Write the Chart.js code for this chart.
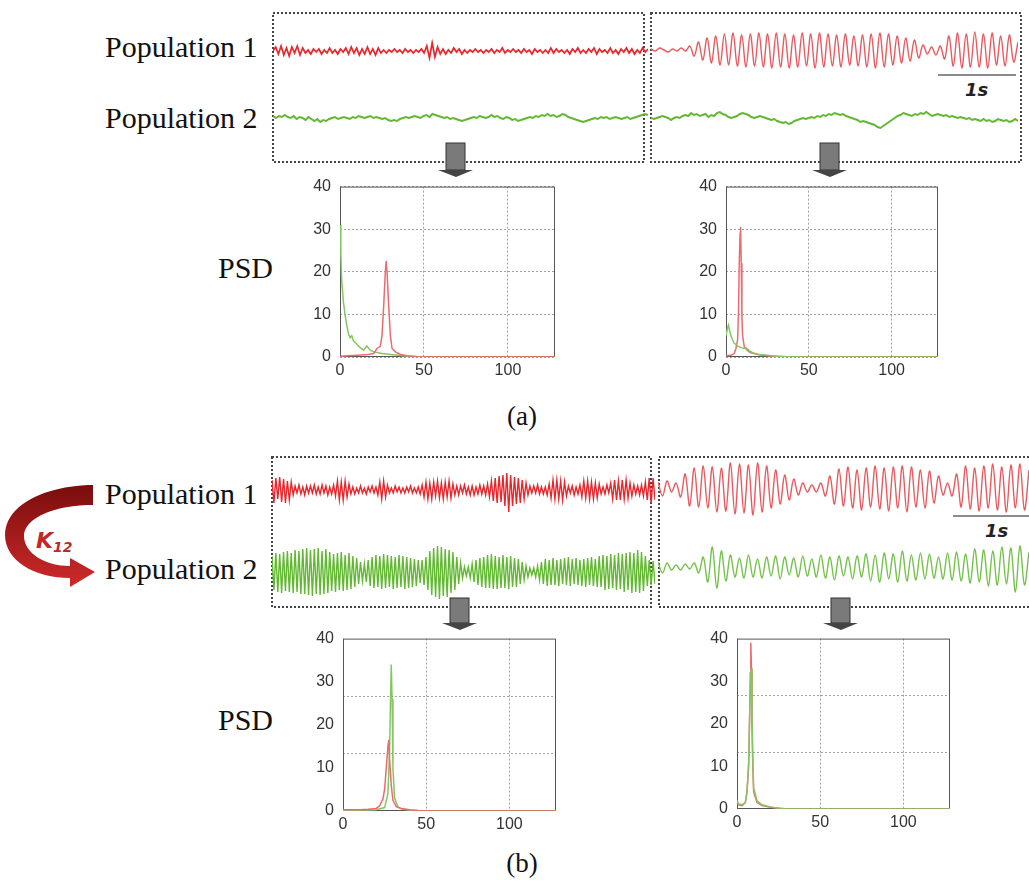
<!DOCTYPE html>
<html>
<head>
<meta charset="utf-8">
<title>Population activity and PSD</title>
<script src="https://cdn.jsdelivr.net/npm/chart.js@4.4.1/dist/chart.umd.min.js"></script>
<style>
body { margin: 0; background: #fff; }
#fig { position: relative; width: 1029px; height: 886px; overflow: hidden; }
#fig canvas { position: absolute; }
#fig svg { position: absolute; left: 0; top: 0; }
.pop { font-family: "Liberation Serif", "Times New Roman", serif; font-size: 30px; fill: #111; }
.cap { font-family: "Liberation Serif", "Times New Roman", serif; font-size: 27px; fill: #111; }
.sec { font-family: "DejaVu Sans", sans-serif; font-size: 18px; font-weight: bold; font-style: italic; fill: #222; }
</style>
</head>
<body>
<div id="fig">
<svg width="1029" height="886">
    <defs>
        <linearGradient id="kgrad" x1="0" y1="0" x2="0" y2="1">
            <stop offset="0" stop-color="#7a0d0d"/>
            <stop offset="1" stop-color="#cf2a2a"/>
        </linearGradient>
    </defs>
    <!-- signal windows -->
    <rect x="273" y="13" width="371" height="149" fill="none" stroke="#444" stroke-width="2" stroke-dasharray="2,2"/>
    <rect x="651" y="13" width="370" height="149" fill="none" stroke="#444" stroke-width="2" stroke-dasharray="2,2"/>
    <rect x="272" y="457" width="379" height="150" fill="none" stroke="#444" stroke-width="2" stroke-dasharray="2,2"/>
    <rect x="659" y="457" width="372" height="150" fill="none" stroke="#444" stroke-width="2" stroke-dasharray="2,2"/>

    <text class="pop" x="105" y="57">Population 1</text>
    <text class="pop" x="105" y="128">Population 2</text>
    <text class="pop" x="105" y="504">Population 1</text>
    <text class="pop" x="105" y="579">Population 2</text>
    <text class="pop" x="218" y="278">PSD</text>
    <text class="pop" x="218" y="730">PSD</text>
    <text class="cap" x="522" y="425" text-anchor="middle">(a)</text>
    <text class="cap" x="522" y="872" text-anchor="middle">(b)</text>

    <!-- 1 s scale bars -->
    <line x1="938" y1="75" x2="1016" y2="75" stroke="#666" stroke-width="1.5"/>
    <text class="sec" x="965" y="96">1s</text>
    <line x1="953" y1="516" x2="1029" y2="516" stroke="#666" stroke-width="1.5"/>
    <text class="sec" x="985" y="537">1s</text>

    <!-- grey arrows -->
    <rect x="446" y="143" width="19" height="27" fill="#7a7a7a" stroke="#333"/>
    <polygon points="438,170 473,170 456,177" fill="#444"/>
    <rect x="820" y="143" width="19" height="27" fill="#7a7a7a" stroke="#333"/>
    <polygon points="812,170 847,170 830,177" fill="#444"/>
    <rect x="450" y="598" width="19" height="25" fill="#7a7a7a" stroke="#333"/>
    <polygon points="442,623 477,623 460,630" fill="#444"/>
    <rect x="831" y="598" width="19" height="25" fill="#7a7a7a" stroke="#333"/>
    <polygon points="823,623 858,623 841,630" fill="#444"/>

    <!-- coupling arrow -->
    <path d="M 93 485 C 50 485, 5 503, 5 535 C 5 561, 35 578, 70 578 L 70 587 L 95 572 L 70 558 L 70 566 C 45 566, 24 553, 24 536 C 24 518, 55 505, 93 505 Z" fill="url(#kgrad)"/>
    <text x="36" y="548" font-family="DejaVu Sans, sans-serif" font-size="22" font-weight="bold" font-style="italic" fill="#c0282a">K<tspan font-size="14" dy="4">12</tspan></text>
</svg>
</div>
<script>
"use strict";

// time traces, sample values in pixels (positive = up)
const aLeftRed = [0, 4, -3, 5, -4, 3, -5, 4, -2, 5, -4, 3,
    -2, 1, -3, 2, -1, 2, -3, 1, -2, 3, -2, 1, -3, 2, -1, 3,
    -3, 4, -2, 3, -4, 2, -3, 4, -3, 2, -4, 3, -2,
    1, -2, 1, -1, 2, -1, 1, -2, 2, -1, 1, -2, 1, -1, 2, -2,
    5, -7, 8, -6, 4,
    -3, 2, -3, 1, -2, 3, -1, 2, -3, 1, -2,
    1, -1, 2, -1, 1, -2, 1, -1, 2, -2, 1, -1, 3, -2, 1, -1, 2, -1, 1, -2, 2, -1, 1, -3, 2, -1, 1, -2, 1, -2,
    3, -2, 2, -1, 1, -2, 1, -3, 2, -1, 3, -2, 1, -2, 2, -1, 3, -3, 2, -1, 1, -2, 3, -2, 1, -3, 2, -1, 3, -2,
    2, -3, 1, -2, 3, -1, 2];
const aLeftGreen = [2, 0, 2, 1, 3, 1, 0, 2, -1, 1, 0, -2, 1, -1, -3, -1, -4, -2, -3, -1,
    0, 1, -1, 0, 1, 0, -1, 1, 0, 2, 1, 0, 1, 2, 0, 1, 0, -1, 0, -2,
    -3, -2, -3, -1, 0, 1, 0, 1, 2, 1, 0, 2, 3, 1, 4, 3, 2, 1, 0, 1,
    -1, 0, -1, -2, -3, -2, -1, 0, 1, 0, 2, 1, 0, 1, 3, 1, 2, 0, -1, 1,
    0, -2, -1, -3, -2, -1, 0, 1, 0, 2, 1, 3, 2, 4, 2, 3, 1, 2, 4, 3,
    1, 0, -1, -2, -3, -4, -3, -2, -1, 0, -1, 1, 0, 1, -1, 0, 1, 0, -1, 0,
    1, -1, 0, 1, 2, 3, 4, 3];
const aRightRed = [1, -1, 2, 0, -2, 1, -1, 2, -1,
    4, -6, 8, -10, 12, -13, 14, -15,
    16, -15, 17, -16, 15, -17, 16, -16, 17, -17, 16, -18, 17, -17, 16,
    -18, 15, -17, 17, -16, 16, -18, 17, -17, 16, -16, 15, -17, 16, -15,
    14, -16, 15, -17, 16, -18, 17, -17, 16, -15, 14, -13, 12, -11, 10,
    -8, 5, -4, 3, -5, 4,
    -9, 14, -16, 17, -18, 16, -17, 18, -17, 16, -18, 17, -15, 14, -16, 15, -12, 8];
const aRightGreen = [0, -1, 0, 1, 2, 1, 0, -2, 0, 1, 0, 2, 3, 2, 5, 3, 4, 2, 3, 4,
    1, 3, 2, 5, 6, 4, 3, 1, 0, 1, 2, 4, 5, 4, 3, 1, 0, 1, 2, 1,
    0, -1, -2, -1, -3, -4, -5, -4, -6, -5, -3, -2, -1, 0, -1, 0, 1, 0, 2, 1,
    3, 2, 4, 3, 5, 4, 3, 4, 2, 1, 0, -1, -2, -4, -3, -4, -5, -6, -7, -9,
    -10, -8, -6, -4, -2, 0, 2, 3, 5, 4, 3, 2, 4, 3, 5, 4, 6, 4, 2, 3,
    4, 3, 2, 3, 1, 2, 1, 0, 1, 0, -1, 0, -2, -1, -2, -3, -1, -3, -2, -4,
    -3, -1, -2, -3, -2, -4, -3, -1, -3];
const bLeftRed = [10, -13, 12, -9, 13, -12, 11, -13, 9, -10,
    8, -5, 4, -3, 5, -4, 3, -5, 4, -3,
    4, -3, 5, -4, 3, -4, 5, -3, 4, -5,
    3, -4, 5, -6, 9, -10, 8, -10, 9, -7,
    6, -4, 3, -4, 2, -3, 4, -3, 2, -4,
    3, -2, 4, -3, 3, -5, 8, -9, 9, -7,
    5, -3, 2, -3, 4, -2, 3, -3, 2, -3,
    3, -2, 4, -3, 2, -3, 3, -4, 5, -7,
    8, -9, 7, -9, 8, -6, 9, -8, 7, -9,
    8, -7, 9, -8, 6, -5, 4, -5, 4, -3,
    5, -4, 3, -5, 4, -5, 3, -4, 5, -4,
    4, -5, 6, -7, 9, -11, 12, -13, 14, -12,
    15, -16, 17, -22, 15, -16, 13, -14, 12, -13,
    10, -9, 7, -5, 4, -3, 4, -3, 5, -4,
    3, -4, 3, -5, 6, -8, 10, -9, 10, -9,
    9, -10, 8, -6, 4, -3, 4, -5, 3, -4,
    5, -7, 9, -8, 9, -9, 8, -9, 7, -8,
    6, -4, 3, -4, 5, -3, 7, -9, 10, -10,
    9, -10, 10, -9, 10, -8, 7, -6, 5, -4,
    4, -5, 5, -6, 8, -10, 12, -13, 12, -10];
const bLeftGreen = [16, -18, 19, -20, 18, -21, 20, -19, 21, -20,
    19, -21, 22, -20, 21, -22, 23, -22, 24, -23,
    22, -24, 23, -22, 24, -23, 21, -22, 23, -21,
    20, -19, 18, -20, 19, -18, 20, -19, 17, -18,
    19, -17, 16, -15, 14, -12, 10, -9, 8, -10,
    12, -14, 15, -16, 17, -15, 16, -17, 18, -16,
    17, -15, 16, -17, 15, -16, 17, -15, 16, -17,
    15, -16, 14, -15, 13, -14, 12, -11, 12, -13,
    15, -18, 21, -23, 24, -25, 26, -27, 25, -24,
    23, -25, 22, -21, 20, -18, 15, -12, 9, -6,
    5, -4, 5, -6, 8, -10, 12, -13, 14, -15,
    15, -16, 17, -16, 18, -17, 16, -17, 15, -16,
    17, -16, 15, -17, 16, -15, 14, -15, 13, -12,
    10, -8, 6, -5, 4, -3, 4, -5, 6, -8,
    10, -12, 13, -14, 12, -13, 14, -13, 12, -14,
    13, -12, 14, -13, 15, -14, 13, -12, 14, -13,
    12, -14, 13, -15, 14, -13, 15, -14, 13, -15,
    16, -15, 17, -18, 16, -17, 18, -16, 17, -18,
    19, -17, 18, -20, 19, -18, 20, -21, 19, -20,
    22, -21, 20, -19, 16, -14, 12, -13, 11, -12];
const bRightRed = [6, -8, 7, -4, 5, -9, 14, -18, 20, -19,
    22, -20, 21, -24, 20, -23, 25, -26, 24, -25,
    23, -27, 25, -24, 22, -20, 18, -16, 13, -12,
    9, -7, 5, -4, 3, -4, 5, -8, 12, -16,
    19, -18, 21, -20, 18, -22, 20, -19, 22, -21,
    20, -23, 21, -20, 22, -24, 21, -19, 18, -20,
    17, -15, 12, -7, 5, -8, 14, -19, 22, -21,
    20, -23, 22, -20, 24, -22, 21, -24, 23, -20,
    24, -22, 18];
const bRightGreen = [5, -6, 4, -3, 2, -3, 3, -2, 4, -6,
    10, -15, 20, -21, 16, -14, 12, -10, 9, -11,
    12, -10, 8, -11, 10, -9, 11, -12, 10, -8,
    9, -10, 11, -9, 8, -10, 12, -11, 10, -13,
    11, -9, 10, -12, 11, -10, 13, -14, 12, -15,
    14, -12, 13, -15, 16, -14, 12, -13, 14, -12,
    13, -11, 10, -12, 14, -13, 15, -14, 13, -16,
    18, -15, 17, -19, 16, -18, 20, -17, 19, -25,
    21, -18, 15];

// power spectra: frequency (Hz) and power
const aLeftRedFreq = [0, 5, 10, 15, 20, 22, 24, 25, 26, 27, 27.5, 28, 29, 30, 31, 33, 36, 40, 45, 50, 128];
const aLeftRedPsd = [0.2, 0.3, 0.4, 0.5, 0.8, 2, 2.5, 5, 12, 20, 22.5, 20, 12, 5, 2, 1.2, 0.6, 0.3, 0.1, 0, 0];
const aLeftGreenFreq = [0, 0.5, 1, 2, 3, 4, 5, 6, 7, 8, 10, 12, 14, 16, 18, 20, 25, 30, 35, 40, 45, 50, 128];
const aLeftGreenPsd = [31, 24, 18, 13, 10, 7.5, 5.5, 4.5, 5, 3.8, 3, 2.2, 1.6, 2.6, 1.6, 1.2, 0.8, 0.6, 0.4, 0.2, 0.1, 0, 0];
const aRightRedFreq = [0, 3, 5, 6, 7, 7.5, 8, 8.5, 8.8, 9.2, 9.6, 10, 11, 13, 15, 20, 25, 30, 40, 128];
const aRightRedPsd = [0.3, 0.4, 0.8, 2, 4, 10, 22, 29, 30.5, 22, 10, 5, 2.5, 1.5, 1, 0.5, 0.3, 0.2, 0, 0];
const aRightGreenFreq = [0, 1, 1.5, 2, 3, 4, 5, 7, 9, 11, 12, 14, 16, 20, 25, 30, 40, 128];
const aRightGreenPsd = [5, 7, 7.5, 6.5, 5, 4, 3.2, 2.6, 2.2, 2, 2.2, 1.5, 1, 0.6, 0.4, 0.2, 0, 0];
const bLeftRedFreq = [0, 10, 15, 20, 22, 24, 25, 26, 27, 27.5, 28, 29, 30, 32, 35, 40, 45, 50, 128];
const bLeftRedPsd = [0.3, 0.3, 0.4, 0.6, 1.2, 2.8, 5, 10, 15, 16.5, 12, 6, 2.5, 1, 0.6, 0.3, 0.1, 0, 0];
const bLeftGreenFreq = [0, 10, 20, 25, 27, 28, 28.5, 29, 29.5, 30, 31, 33, 35, 40, 50, 128];
const bLeftGreenPsd = [0.2, 0.2, 0.3, 0.8, 4, 14, 25, 34, 26, 10, 3, 1, 0.5, 0.2, 0, 0];
const bRightRedFreq = [0, 1, 3, 5, 6, 7, 7.5, 8, 8.3, 8.7, 9, 9.5, 10, 12, 15, 20, 25, 30, 128];
const bRightRedPsd = [1.5, 1, 0.8, 1.5, 4, 10, 20, 32, 39, 33, 20, 10, 4, 1.5, 0.8, 0.4, 0.2, 0, 0];
const bRightGreenFreq = [0, 1, 3, 5, 6, 7, 7.5, 8, 8.5, 9, 9.5, 10, 12, 15, 20, 25, 30, 128];
const bRightGreenPsd = [2, 1.2, 1, 1.5, 4, 11, 20, 28, 33, 22, 12, 5, 2, 1, 0.5, 0.2, 0, 0];

const psdXTicks = [0, 50, 100];
const psdYTicks = [0, 10, 20, 30, 40];
const psdMaxFreq = 128;
const psdMaxPower = 40;

const RED = "#e8262c";
const RED_LIGHT = "#e95a60";
const GREEN = "#62b832";
const GREEN_LIGHT = "#74c24a";
const PSD_RED = "#ea6b70";
const PSD_GREEN = "#84c762";

const fig = document.getElementById("fig");

Chart.defaults.font.family = "'Liberation Sans', Arial, sans-serif";
Chart.defaults.animation = false;

function addCanvas(left, top, width, height)
{
    const canvas = document.createElement("canvas");
    canvas.width = width;
    canvas.height = height;
    canvas.style.left = left + "px";
    canvas.style.top = top + "px";
    fig.appendChild(canvas);
    return canvas;
}

// smooth = curve tension, used for the slower oscillations
function makeTrace(values, color, x0, x1, cy, half, width, smooth)
{
    const canvas = addCanvas(x0, cy - half, x1 - x0, half * 2);

    new Chart(canvas, {
        type: "line",
        data: {
            labels: values.map((v, i) => i),
            datasets: [{
                data: values,
                borderColor: color,
                borderWidth: width,
                pointRadius: 0,
                tension: smooth
            }]
        },
        options: {
            responsive: false,
            devicePixelRatio: 1,
            events: [],
            layout: {padding: 0},
            plugins: {legend: {display: false}, tooltip: {enabled: false}},
            scales: {
                x: {display: false},
                y: {display: false, min: -half, max: half}
            }
        }
    });
}

const framePlugin = {
    id: "frame",
    beforeDatasetsDraw(chart)
    {
        const a = chart.chartArea;
        const ctx = chart.ctx;
        ctx.save();
        ctx.strokeStyle = "#555";
        ctx.lineWidth = 1;
        ctx.strokeRect(a.left + 0.5, a.top + 0.5, a.right - a.left - 1, a.bottom - a.top - 1);
        ctx.restore();
    }
};

function toPoints(freq, power)
{
    return freq.map((f, i) => ({x: f, y: power[i]}));
}

function makePsd(plotLeft, plotTop, plotRight, plotBottom, series, thirds)
{
    const padL = 50;
    const padT = 12;
    const padR = 12;
    const padB = 30;
    const canvas = addCanvas(plotLeft - padL, plotTop - padT,
        plotRight - plotLeft + padL + padR, plotBottom - plotTop + padT + padB);

    const gridColor = "#a0a0a0";
    const tickFont = {size: 16};

    const scales = {
        x: {
            type: "linear",
            min: 0,
            max: psdMaxFreq,
            afterFit: s => { s.height = padB; },
            afterBuildTicks: s => { s.ticks = psdXTicks.map(v => ({value: v})); },
            grid: {color: gridColor, drawTicks: false},
            border: {display: false, dash: [2, 2]},
            ticks: {padding: 4, color: "#333", font: tickFont}
        },
        y: {
            min: 0,
            max: psdMaxPower,
            afterFit: s => { s.width = padL; },
            afterBuildTicks: s => { s.ticks = psdYTicks.map(v => ({value: v})); },
            grid: {display: !thirds, color: gridColor, drawTicks: false},
            border: {display: false, dash: [2, 2]},
            ticks: {padding: 9, color: "#333", font: tickFont}
        }
    };

    if (thirds)
    {
        scales.g = {
            position: "right",
            min: 0,
            max: psdMaxPower,
            afterFit: s => { s.width = 0; },
            afterBuildTicks: s => { s.ticks = [psdMaxPower / 3, psdMaxPower * 2 / 3].map(v => ({value: v})); },
            grid: {color: gridColor, drawTicks: false},
            border: {display: false, dash: [2, 2]},
            ticks: {display: false}
        };
    }

    const datasets = series.map(s => ({
        data: toPoints(s.freq, s.power),
        borderColor: s.color,
        borderWidth: 1.5,
        pointRadius: 0,
        tension: 0
    }));

    new Chart(canvas, {
        type: "line",
        data: {datasets: datasets},
        options: {
            responsive: false,
            devicePixelRatio: 1,
            events: [],
            layout: {padding: {top: padT, right: padR, left: 0, bottom: 0}},
            plugins: {legend: {display: false}, tooltip: {enabled: false}},
            scales: scales
        },
        plugins: [framePlugin]
    });
}

// panel (a)
makeTrace(aLeftRed, RED, 273, 648, 51, 30, 1.7, 0);
makeTrace(aLeftGreen, GREEN, 273, 648, 118, 30, 2, 0);
makeTrace(aRightRed, RED_LIGHT, 651, 1018, 50, 30, 1.4, 0.35);
makeTrace(aRightGreen, GREEN, 651, 1018, 118, 30, 2, 0);

makePsd(340, 180, 555, 357, [
    {freq: aLeftRedFreq, power: aLeftRedPsd, color: PSD_RED},
    {freq: aLeftGreenFreq, power: aLeftGreenPsd, color: PSD_GREEN}
], false);
makePsd(726, 180, 938, 357, [
    {freq: aRightGreenFreq, power: aRightGreenPsd, color: PSD_GREEN},
    {freq: aRightRedFreq, power: aRightRedPsd, color: PSD_RED}
], false);

// panel (b)
makeTrace(bLeftRed, RED, 272, 655, 490, 32, 1.4, 0);
makeTrace(bLeftGreen, GREEN, 272, 655, 572, 32, 1.4, 0);
makeTrace(bRightRed, RED_LIGHT, 658, 1029, 488, 32, 1.4, 0.35);
makeTrace(bRightGreen, GREEN_LIGHT, 658, 1029, 567, 32, 1.4, 0.35);

makePsd(343, 632, 556, 811, [
    {freq: bLeftRedFreq, power: bLeftRedPsd, color: PSD_RED},
    {freq: bLeftGreenFreq, power: bLeftGreenPsd, color: PSD_GREEN}
], true);
makePsd(737, 632, 950, 809, [
    {freq: bRightGreenFreq, power: bRightGreenPsd, color: PSD_GREEN},
    {freq: bRightRedFreq, power: bRightRedPsd, color: PSD_RED}
], true);
</script>
</body>
</html>
